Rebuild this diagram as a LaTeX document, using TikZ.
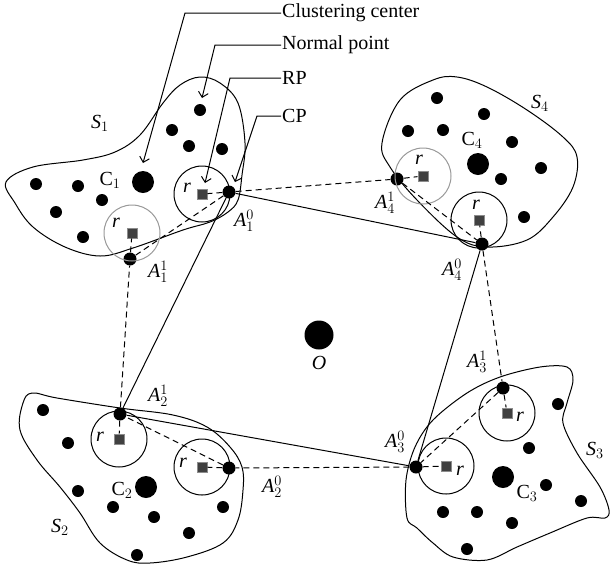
\documentclass[tikz,border=0pt]{standalone}
\usepackage{fontspec}
\setmainfont{Liberation Serif}
\usetikzlibrary{arrows.meta}

\begin{document}
\begin{tikzpicture}[
  x=1pt,y=-1pt,
  every node/.style={font=\fontsize{20}{23}\selectfont,inner sep=1pt},
  blob/.style={line width=1pt,line join=round},
  pnt/.style={circle,fill=black,inner sep=0pt,minimum size=12pt},
  ctr/.style={circle,fill=black,inner sep=0pt,minimum size=22pt},
  cpt/.style={circle,fill=black,inner sep=0pt,minimum size=13pt},
  rpt/.style={rectangle,fill=black!75,draw=black!45,line width=1pt,inner sep=0pt,minimum size=10pt},
  ring/.style={line width=1pt},
  gring/.style={line width=1pt,draw=black!40},
  link/.style={line width=1pt},
  dlink/.style={line width=1pt,dash pattern=on 6pt off 4pt},
  lead/.style={line width=1pt,-{Straight Barb[length=5pt,width=10pt]}}
]
  \useasboundingbox (0,0) rectangle (610,566);

  % the four clusters
  \draw[blob] plot[smooth cycle,tension=0.6] coordinates {(6,182) (33,167) (83,160) (115,152) (140,135) (163,103) (180,85) (200,77) (220,83) (238,103) (245,143) (242,175) (238,200) (228,212) (210,222) (183,230) (133,248) (100,256) (65,247) (33,227) (15,203)};
  \draw[blob] plot[smooth cycle,tension=0.6] coordinates {(382,143) (390,167) (417,200) (457,237) (487,247) (527,240) (553,217) (573,187) (577,157) (563,137) (527,110) (487,87) (457,77) (433,80) (400,100)};
  \draw[blob] plot[smooth cycle,tension=0.6] coordinates {(32,393) (57,398) (120,408) (173,415) (207,427) (230,447) (242,467) (243,490) (238,520) (223,543) (187,557) (150,563) (127,560) (100,543) (80,513) (60,487) (37,460) (20,430) (23,403)};
  \draw[blob] plot[smooth cycle,tension=0.55] coordinates {(407,518) (406,480) (415,447) (433,420) (467,393) (500,377) (540,367) (567,367) (573,380) (567,403) (563,423) (577,453) (600,487) (609,510) (605,518) (587,518) (550,533) (517,547) (487,560) (453,557) (433,543) (417,528)};

  \foreach \x/\y [count=\i] in {200/110,172/130,189/146,222/149,36/184,78/186,102/200,56/212,83/237}
    \node[pnt] (n1\i) at (\x,\y) {};
  \foreach \x/\y [count=\i] in {437/98,484/114,408/131,443/130,512/142,541/168,501/179,524/217}
    \node[pnt] (n4\i) at (\x,\y) {};
  \foreach \x/\y [count=\i] in {43/410,68/443,78/491,113/507,154/517,189/533,223/507,137/555}
    \node[pnt] (n2\i) at (\x,\y) {};
  \foreach \x/\y [count=\i] in {558/404,529/448,546/485,581/501,443/512,477/512,512/523,467/549}
    \node[pnt] (n3\i) at (\x,\y) {};

  \node[ctr] (c1) at (143,182) {};
  \node[ctr] (c2) at (146,487) {};
  \node[ctr] (c3) at (503,477) {};
  \node[ctr] (c4) at (478,164) {};
  \node[circle,fill=black,inner sep=0pt,minimum size=29pt] (o) at (319,335) {};

  \node[rpt] (p10) at (202,194) {};
  \node[rpt] (p11) at (132,233) {};
  \node[rpt] (p20) at (202,467) {};
  \node[rpt] (p21) at (119,439) {};
  \node[rpt] (p30) at (446,466) {};
  \node[rpt] (p31) at (507,413) {};
  \node[rpt] (p40) at (479,220) {};
  \node[rpt] (p41) at (423,176) {};

  \node[cpt] (a10) at (229,192) {};
  \node[cpt] (a11) at (130,259) {};
  \node[cpt] (a20) at (229,468) {};
  \node[cpt] (a21) at (120,414) {};
  \node[cpt] (a30) at (416,467) {};
  \node[cpt] (a31) at (503,388) {};
  \node[cpt] (a40) at (482,244) {};
  \node[cpt] (a41) at (397,179) {};

  \draw[ring] (p10) circle (28pt);
  \draw[gring] (p11) circle (28pt);
  \draw[ring] (p20) circle (28pt);
  \draw[ring] (p21) circle (28pt);
  \draw[ring] (p30) circle (28pt);
  \draw[ring] (p31) circle (28pt);
  \draw[ring] (p40) circle (28pt);
  \draw[gring] (p41) circle (28pt);

  % labels
  \node (s1) at (100,123) {$\mathit{S}_1$};
  \node (s2) at (60,527) {$\mathit{S}_2$};
  \node (s3) at (595,450) {$\mathit{S}_3$};
  \node (s4) at (540,103) {$\mathit{S}_4$};
  \node (lc1) at (110,180) {$\mathrm{C}_1$};
  \node (lc2) at (122,490) {$\mathrm{C}_2$};
  \node (lc3) at (527,493) {$\mathrm{C}_3$};
  \node (lc4) at (472,140) {$\mathrm{C}_4$};
  \node (lo) at (319,363) {\textit{O}};
  \node (la10) at (244,221) {$\mathit{A}_1^0$};
  \node (la11) at (158,272) {$\mathit{A}_1^1$};
  \node (la20) at (272,487) {$\mathit{A}_2^0$};
  \node (la21) at (158,396) {$\mathit{A}_2^1$};
  \node (la30) at (395,442) {$\mathit{A}_3^0$};
  \node (la31) at (477,362) {$\mathit{A}_3^1$};
  \node (la40) at (452,270) {$\mathit{A}_4^0$};
  \node (la41) at (385,203) {$\mathit{A}_4^1$};
  \node (r10) at (187,188) {\textit{r}};
  \node (r11) at (116,223) {\textit{r}};
  \node (r20) at (183,463) {\textit{r}};
  \node (r21) at (100,437) {\textit{r}};
  \node (r30) at (460,471) {\textit{r}};
  \node (r31) at (520,417) {\textit{r}};
  \node (r40) at (476,205) {\textit{r}};
  \node (r41) at (419,160) {\textit{r}};

  % routes
  \draw[link] (a10) -- (a40);
  \draw[link] (a40) -- (a30);
  \draw[link] (a30) -- (a21);
  \draw[link] (a21) -- (a10);
  \draw[dlink] (a10) -- (a41);
  \draw[dlink] (a41) -- (a40);
  \draw[dlink] (a40) -- (a31);
  \draw[dlink] (a31) -- (a30);
  \draw[dlink] (a30) -- (a20);
  \draw[dlink] (a20) -- (a21);
  \draw[dlink] (a21) -- (a11);
  \draw[dlink] (a11) -- (a10);
  \foreach \k in {10,11,20,21,30,31,40,41}
    \draw[dlink] (a\k) -- (p\k);

  % legend
  \node[anchor=west] (lcc) at (281,13) {Clustering center};
  \node[anchor=west] (lnp) at (281,45) {Normal point};
  \node[anchor=west] (lrp) at (281,78) {RP};
  \node[anchor=west] (lcp) at (281,116) {CP};
  \coordinate (kcc) at (185,13);
  \coordinate (tcc) at (143,163);
  \coordinate (knp) at (215,45);
  \coordinate (tnp) at (202,98);
  \coordinate (krp) at (230,78);
  \coordinate (trp) at (205,183);
  \coordinate (kcp) at (257,116);
  \coordinate (tcp) at (235,182);
  \draw[lead] (lcc.west) -- (kcc) -- (tcc);
  \draw[lead] (lnp.west) -- (knp) -- (tnp);
  \draw[lead] (lrp.west) -- (krp) -- (trp);
  \draw[lead] (lcp.west) -- (kcp) -- (tcp);
\end{tikzpicture}
\end{document}
